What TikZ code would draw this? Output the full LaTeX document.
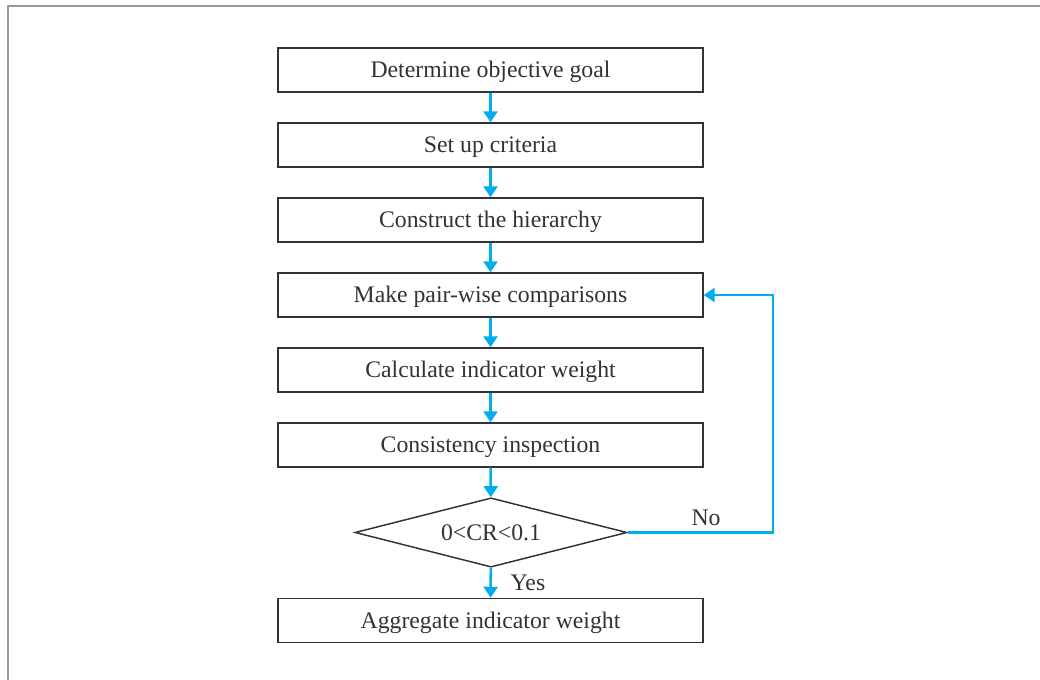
\documentclass[tikz,border=0pt]{standalone}
\usepackage{fontspec}
\setmainfont{Liberation Serif}
\usetikzlibrary{arrows.meta,shapes.geometric}
\definecolor{flowblue}{HTML}{00AEEF}
\definecolor{inkgray}{HTML}{333333}
\definecolor{framegray}{HTML}{999999}
\begin{document}
\begin{tikzpicture}[x=0.75pt,y=-0.75pt,
  txt/.style={text=inkgray,font=\fontsize{17.8}{20}\selectfont},
  stepbox/.style={txt,draw=inkgray,line width=1.1pt,minimum width=318.75pt,minimum height=33pt,
    inner sep=0pt,text height=11.8pt,text depth=0pt},
  decision/.style={txt,draw=inkgray,line width=1.1pt,diamond,aspect=3.9,minimum width=204pt,
    minimum height=52pt,inner sep=0pt,text height=11.8pt,text depth=0pt},
  flow/.style={draw=flowblue,line width=1.9pt,-{Triangle[length=8.25pt,width=10.5pt]}},
  lbl/.style={txt,inner sep=0pt}]
\useasboundingbox (0,0) rectangle (1040,680);
\fill[white] (0,0) rectangle (1040,680);
% cropped frame
\draw[framegray,line width=1.5pt] (8,680) -- (8,6) -- (1040,6);
% process steps
\node[stepbox] (goal) at (490.5,70) {Determine objective goal};
\node[stepbox] (crit) at (490.5,145) {Set up criteria};
\node[stepbox] (hier) at (490.5,220) {Construct the hierarchy};
\node[stepbox] (pair) at (490.5,295) {Make pair-wise comparisons};
\node[stepbox] (calc) at (490.5,370) {Calculate indicator weight};
\node[stepbox] (cons) at (490.5,445) {Consistency inspection};
\node[decision] (cr) at (491,532.5) {0<CR<0.1};
\node[stepbox] (aggr) at (490.5,620.5) {Aggregate indicator weight};
\coordinate (loop) at (773,532.5);
% connectors
\draw[flow] (goal) -- (crit);
\draw[flow] (crit) -- (hier);
\draw[flow] (hier) -- (pair);
\draw[flow] (pair) -- (calc);
\draw[flow] (calc) -- (cons);
\draw[flow] (cons) -- (cr);
\draw[flow] (cr) -- (aggr);
\draw[flow] (cr.east) -- (loop) |- (pair.east);
\node[lbl] (yes) at (528,583) {Yes};
\node[lbl] (no) at (706,518) {No};
\end{tikzpicture}
\end{document}
